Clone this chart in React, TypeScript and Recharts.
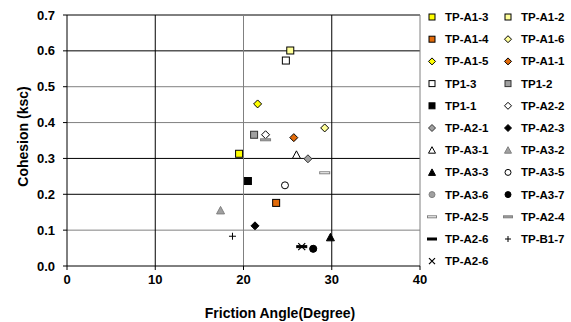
import React from 'react';
import { ScatterChart, Scatter, XAxis, YAxis, ReferenceLine, Label } from 'recharts';

// series names, in legend order
const seriesNames = [
  'TP-A1-3', 'TP-A1-2', 'TP-A1-4', 'TP-A1-6', 'TP-A1-5', 'TP-A1-1',
  'TP1-3', 'TP1-2', 'TP1-1', 'TP-A2-2', 'TP-A2-1', 'TP-A2-3',
  'TP-A3-1', 'TP-A3-2', 'TP-A3-3', 'TP-A3-5', 'TP-A3-6', 'TP-A3-7',
  'TP-A2-5', 'TP-A2-4', 'TP-A2-6', 'TP-B1-7', 'TP-A2-6',
];

// friction angle (degree), one point per series
const frictionAngle = [
  19.5, 25.3, 23.7, 29.2, 21.6, 25.7,
  24.8, 21.2, 20.5, 22.5, 27.3, 21.3,
  26.0, 17.4, 29.85, 24.7, 27.9, 27.9,
  29.2, 22.5, 26.6, 18.75, 26.6,
];

// cohesion (ksc)
const cohesion = [
  0.313, 0.601, 0.176, 0.385, 0.452, 0.358,
  0.573, 0.366, 0.237, 0.366, 0.299, 0.112,
  0.31, 0.155, 0.08, 0.225, 0.048, 0.048,
  0.26, 0.352, 0.054, 0.083, 0.054,
];

const xTicks = [0, 10, 20, 30, 40];
const yTicks = [0, 0.1, 0.2, 0.3, 0.4, 0.5, 0.6, 0.7];

type Kind = 'square' | 'diamond' | 'triangle' | 'circle' | 'dash' | 'plus' | 'x';

const markers: { kind: Kind; fill: string; stroke: string }[] = [
  { kind: 'square', fill: '#FFFF00', stroke: '#000' },
  { kind: 'square', fill: '#FFFF99', stroke: '#000' },
  { kind: 'square', fill: '#E26B0A', stroke: '#000' },
  { kind: 'diamond', fill: '#FFFF99', stroke: '#000' },
  { kind: 'diamond', fill: '#FFFF00', stroke: '#000' },
  { kind: 'diamond', fill: '#E26B0A', stroke: '#000' },
  { kind: 'square', fill: '#FFFFFF', stroke: '#000' },
  { kind: 'square', fill: '#A0A0A0', stroke: '#333' },
  { kind: 'square', fill: '#000000', stroke: '#000' },
  { kind: 'diamond', fill: '#FFFFFF', stroke: '#000' },
  { kind: 'diamond', fill: '#A0A0A0', stroke: '#333' },
  { kind: 'diamond', fill: '#000000', stroke: '#000' },
  { kind: 'triangle', fill: '#FFFFFF', stroke: '#000' },
  { kind: 'triangle', fill: '#A0A0A0', stroke: '#808080' },
  { kind: 'triangle', fill: '#000000', stroke: '#000' },
  { kind: 'circle', fill: '#FFFFFF', stroke: '#000' },
  { kind: 'circle', fill: '#A0A0A0', stroke: '#808080' },
  { kind: 'circle', fill: '#000000', stroke: '#000' },
  { kind: 'dash', fill: '#FFFFFF', stroke: '#808080' },
  { kind: 'dash', fill: '#A0A0A0', stroke: '#808080' },
  { kind: 'dash', fill: '#000000', stroke: '#000' },
  { kind: 'plus', fill: 'none', stroke: '#000' },
  { kind: 'x', fill: 'none', stroke: '#000' },
];

const FONT = '"Liberation Sans", Arial, sans-serif';

// Excel drew some gridlines darker than others
const gridColor = (v: number) => ([0.1, 0.4, 0.5, 20, 40].includes(v) ? '#808080' : '#000');

const Marker = ({ kind, fill, stroke, cx, cy, r = 3.5 }: any) => {
  switch (kind) {
    case 'square':
      return <rect x={cx - r} y={cy - r} width={r * 2} height={r * 2} fill={fill} stroke={stroke} />;
    case 'diamond':
      return (
        <path
          d={`M${cx},${cy - r - 0.5}L${cx + r + 0.5},${cy}L${cx},${cy + r + 0.5}L${cx - r - 0.5},${cy}Z`}
          fill={fill}
          stroke={stroke}
        />
      );
    case 'triangle':
      return (
        <path
          d={`M${cx},${cy - r - 0.5}L${cx + r + 0.5},${cy + r}L${cx - r - 0.5},${cy + r}Z`}
          fill={fill}
          stroke={stroke}
        />
      );
    case 'circle':
      return <circle cx={cx} cy={cy} r={r} fill={fill} stroke={stroke} />;
    case 'dash':
      return <rect x={cx - r - 1.5} y={cy - 1} width={(r + 1.5) * 2} height={2} fill={fill} stroke={stroke} />;
    case 'plus':
      return (
        <path d={`M${cx - r},${cy}H${cx + r}M${cx},${cy - r}V${cy + r}`} stroke={stroke} strokeWidth={1} fill="none" />
      );
    case 'x':
      return (
        <path
          d={`M${cx - r},${cy - r}L${cx + r},${cy + r}M${cx + r},${cy - r}L${cx - r},${cy + r}`}
          stroke={stroke}
          strokeWidth={1.2}
          fill="none"
        />
      );
    default:
      return null;
  }
};

const LegendGrid = () => (
  <svg width={146} height={270} style={{ position: 'absolute', left: 425, top: 10 }}>
    {seriesNames.map((name, i) => {
      const col = i % 2;
      const row = Math.floor(i / 2);
      const mx = 7 + col * 76;
      const my = 7 + row * 22.2;
      return (
        <g key={`leg-${i}`}>
          <Marker {...markers[i]} cx={mx} cy={my} r={3} />
          <text x={mx + 13} y={my + 4} fontFamily={FONT} fontWeight="bold" fontSize={11.5} fill="#000">
            {name}
          </text>
        </g>
      );
    })}
  </svg>
);

export default function App() {
  return (
    <div style={{ position: 'absolute', left: 0, top: 0, width: 571, height: 322, background: '#fff' }}>
      <ScatterChart width={571} height={322} margin={{ top: 15, right: 151, bottom: 26, left: 17 }}>
        {yTicks.slice(1).map((v) => (
          <ReferenceLine key={`gy-${v}`} y={v} stroke={gridColor(v)} strokeWidth={1} ifOverflow="visible" />
        ))}
        {xTicks.slice(1).map((v) => (
          <ReferenceLine key={`gx-${v}`} x={v} stroke={gridColor(v)} strokeWidth={1} ifOverflow="visible" />
        ))}
        <XAxis
          type="number"
          dataKey="x"
          domain={[0, 40]}
          ticks={xTicks}
          height={30}
          axisLine={{ stroke: '#000' }}
          tickLine={{ stroke: '#000' }}
          tickSize={4}
          tickMargin={5}
          tick={{ fill: '#000', fontSize: 13, fontWeight: 'bold', fontFamily: FONT }}
        >
          <Label
            content={({ viewBox }: any) => (
              <text
                x={viewBox.x + 213}
                y={viewBox.y + 52}
                textAnchor="middle"
                fontFamily={FONT}
                fontWeight="bold"
                fontSize={14}
                fill="#000"
              >
                Friction Angle(Degree)
              </text>
            )}
          />
        </XAxis>
        <YAxis
          type="number"
          dataKey="y"
          domain={[0, 0.7]}
          ticks={yTicks}
          width={50}
          axisLine={{ stroke: '#000' }}
          tickLine={{ stroke: '#000' }}
          tickSize={4}
          tickMargin={8}
          tickFormatter={(v: number) => v.toFixed(1)}
          tick={{ fill: '#000', fontSize: 13, fontWeight: 'bold', fontFamily: FONT }}
        >
          <Label
            content={({ viewBox }: any) => {
              const x = viewBox.x + 11;
              const y = viewBox.y + viewBox.height / 2 - 4;
              return (
                <text
                  x={x}
                  y={y}
                  transform={`rotate(-90 ${x} ${y})`}
                  textAnchor="middle"
                  fontFamily={FONT}
                  fontWeight="bold"
                  fontSize={14}
                  fill="#000"
                >
                  Cohesion (ksc)
                </text>
              );
            }}
          />
        </YAxis>
        {seriesNames.map((name, i) => (
          <Scatter
            key={`s-${i}`}
            name={name}
            data={[{ x: frictionAngle[i], y: cohesion[i] }]}
            isAnimationActive={false}
            shape={(p: any) => <Marker {...markers[i]} cx={p.cx} cy={p.cy} />}
          />
        ))}
      </ScatterChart>
      <LegendGrid />
    </div>
  );
}
